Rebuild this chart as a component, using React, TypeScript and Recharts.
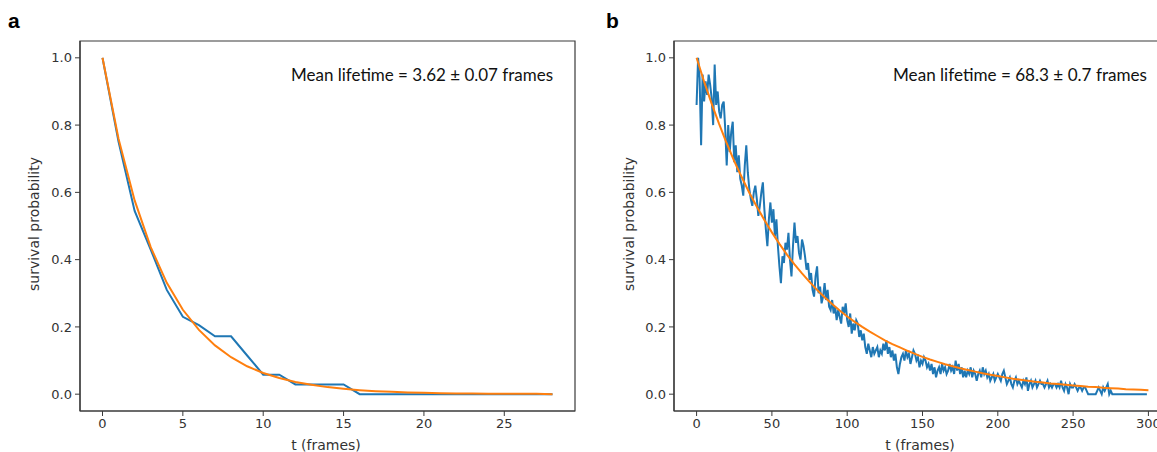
import React from "react";
import { LineChart, Line, XAxis, YAxis, ReferenceArea } from "recharts";

// ---- Panel a data ----
const A_T = [0, 1, 2, 3, 4, 5, 6, 7, 8, 9, 10, 11, 12, 13, 14, 15, 16, 17, 18, 19, 20, 21, 22, 23, 24, 25, 26, 27, 28];
const A_SURVIVAL = [1.0, 0.75, 0.545, 0.43, 0.31, 0.23, 0.205, 0.172, 0.172, 0.115, 0.058, 0.058, 0.029, 0.029, 0.029, 0.029, 0, 0, 0, 0, 0, 0, 0, 0, 0, 0, 0, 0, 0];
const A_FIT = [1.0, 0.759, 0.576, 0.437, 0.331, 0.251, 0.191, 0.145, 0.11, 0.083, 0.063, 0.048, 0.036, 0.028, 0.021, 0.016, 0.012, 0.009, 0.007, 0.005, 0.004, 0.003, 0.002, 0.002, 0.001, 0.001, 0.001, 0.001, 0.0];
const A_XTICKS = [0, 5, 10, 15, 20, 25];
const A_LABEL = "Mean lifetime = 3.62 ± 0.07 frames";

// ---- Panel b data (one value per frame, t = 0..299) ----
const B_SURVIVAL = [
  0.86, 1.0, 0.94, 0.74, 0.95, 0.87, 0.93, 0.89, 0.95, 0.92,
  0.88, 0.8, 0.98, 0.86, 0.9, 0.84, 0.82, 0.86, 0.87, 0.79,
  0.68, 0.8, 0.72, 0.78, 0.81, 0.69, 0.74, 0.66, 0.71, 0.64,
  0.62, 0.59, 0.68, 0.74, 0.66, 0.61, 0.58, 0.56, 0.6, 0.62,
  0.58, 0.53, 0.56, 0.6, 0.63, 0.55, 0.49, 0.44, 0.52, 0.57,
  0.51, 0.55, 0.47, 0.52, 0.44, 0.38, 0.33, 0.41, 0.39, 0.45,
  0.43, 0.48, 0.4, 0.35, 0.44, 0.51, 0.45, 0.47, 0.42, 0.4,
  0.46, 0.44, 0.41, 0.37, 0.39, 0.34, 0.36, 0.31, 0.29, 0.35,
  0.38, 0.3, 0.32, 0.27, 0.29, 0.33, 0.28, 0.31, 0.26, 0.25,
  0.28, 0.24, 0.26, 0.22, 0.25, 0.23, 0.21, 0.26, 0.24, 0.27,
  0.22, 0.2, 0.24, 0.18, 0.21, 0.19, 0.22, 0.21, 0.17, 0.19,
  0.16, 0.18, 0.14, 0.12, 0.15, 0.13, 0.11, 0.14, 0.12, 0.13,
  0.14, 0.11, 0.13, 0.12, 0.15, 0.13, 0.16, 0.12, 0.14, 0.11,
  0.13, 0.1, 0.12, 0.08, 0.06, 0.09, 0.11, 0.12, 0.1, 0.13,
  0.11, 0.12, 0.09, 0.11, 0.13, 0.12, 0.1, 0.11, 0.08, 0.1,
  0.09, 0.11, 0.1, 0.08, 0.09, 0.07, 0.09, 0.06, 0.08, 0.05,
  0.07, 0.08, 0.06, 0.09, 0.07, 0.08, 0.06, 0.07, 0.09, 0.07,
  0.08, 0.06, 0.1, 0.07, 0.09, 0.06, 0.08, 0.05, 0.07, 0.05,
  0.07, 0.06, 0.08, 0.05, 0.07, 0.06, 0.04, 0.06, 0.07, 0.05,
  0.08, 0.06, 0.07, 0.05, 0.06, 0.04, 0.05, 0.06, 0.04, 0.05,
  0.06, 0.05, 0.04, 0.06, 0.07, 0.05, 0.03, 0.04, 0.05, 0.03,
  0.02, 0.04, 0.05, 0.03, 0.04, 0.03, 0.02, 0.04, 0.03, 0.05,
  0.01, 0.03, 0.04, 0.02, 0.03, 0.04, 0.02, 0.03, 0.04, 0.03,
  0.03, 0.02, 0.03, 0.04, 0.02, 0.03, 0.02, 0.03, 0.03, 0.02,
  0.03, 0.02, 0.04, 0.02, 0.01, 0.03, 0.02, 0.0, 0.03, 0.02,
  0.02, 0.03, 0.02, 0.01, 0.02, 0.02, 0.01, 0.02, 0.02, 0.01,
  0.0, 0.0, 0.0, 0.0, 0.0, 0.0, 0.01, 0.02, 0.01, 0.0,
  0.02, 0.01, 0.02, 0.03, 0.0, 0.01, 0.0, 0.0, 0.0, 0.0,
  0, 0, 0, 0, 0, 0, 0, 0, 0, 0,
  0, 0, 0, 0, 0, 0, 0, 0, 0, 0,
];
// fit curve sampled every 5 frames
const B_FIT_T = [0, 5, 10, 15, 20, 25, 30, 35, 40, 45, 50, 55, 60, 65, 70, 75, 80, 85, 90, 95, 100, 105, 110, 115, 120, 125, 130, 135, 140, 145, 150, 155, 160, 165, 170, 175, 180, 185, 190, 195, 200, 205, 210, 215, 220, 225, 230, 235, 240, 245, 250, 255, 260, 265, 270, 275, 280, 285, 290, 295, 300];
const B_FIT = [1.0, 0.929, 0.864, 0.803, 0.746, 0.693, 0.645, 0.599, 0.557, 0.518, 0.481, 0.447, 0.415, 0.386, 0.359, 0.334, 0.31, 0.288, 0.268, 0.249, 0.231, 0.215, 0.2, 0.186, 0.173, 0.16, 0.149, 0.139, 0.129, 0.12, 0.111, 0.103, 0.096, 0.089, 0.083, 0.077, 0.072, 0.067, 0.062, 0.058, 0.054, 0.05, 0.046, 0.043, 0.04, 0.037, 0.035, 0.032, 0.03, 0.028, 0.026, 0.024, 0.022, 0.021, 0.019, 0.018, 0.017, 0.015, 0.014, 0.013, 0.012];
const B_XTICKS = [0, 50, 100, 150, 200, 250, 300];
const B_LABEL = "Mean lifetime = 68.3 ± 0.7 frames";

const Y_TICKS = [0, 0.2, 0.4, 0.6, 0.8, 1.0];
const Y_DOMAIN: [number, number] = [-0.05, 1.05];

const BLUE = "#1f77b4";
const ORANGE = "#ff7f0e";
const AXIS = "#3a3a3a";
const TICKFONT = { fontFamily: "DejaVu Sans", fontSize: 13, fill: "#333" };

const aData = A_T.map((t, i) => ({ t, s: A_SURVIVAL[i], f: A_FIT[i] }));
const bBlue = B_SURVIVAL.map((s, i) => ({ t: i, s }));
const bFit = B_FIT_T.map((t, i) => ({ t, f: B_FIT[i] }));

function Panel(props: {
  left: number;
  width: number;
  xDomain: [number, number];
  xTicks: number[];
  blue: any[];
  fit: any[];
}) {
  const { left, width, xDomain, xTicks, blue, fit } = props;
  return (
    <div style={{ position: "absolute", left, top: 0 }}>
      <LineChart width={width} height={452} margin={{ top: 41, right: 25, bottom: 11, left: 40 }}>
        <XAxis
          type="number"
          dataKey="t"
          domain={xDomain}
          ticks={xTicks}
          allowDataOverflow
          height={30}
          tickSize={5}
          tickMargin={3}
          tick={TICKFONT}
          axisLine={{ stroke: AXIS, strokeWidth: 1.2 }}
          tickLine={{ stroke: AXIS, strokeWidth: 1 }}
          tickFormatter={(v: number) => String(v)}
        />
        <YAxis
          type="number"
          domain={Y_DOMAIN}
          ticks={Y_TICKS}
          allowDataOverflow
          width={40}
          tickSize={5}
          tickMargin={3}
          tick={TICKFONT}
          axisLine={{ stroke: AXIS, strokeWidth: 1.2 }}
          tickLine={{ stroke: AXIS, strokeWidth: 1 }}
          tickFormatter={(v: number) => v.toFixed(1)}
        />
        <ReferenceArea
          x1={xDomain[0]}
          x2={xDomain[1]}
          y1={Y_DOMAIN[0]}
          y2={Y_DOMAIN[1]}
          fill="none"
          stroke={AXIS}
          strokeWidth={1.2}
          ifOverflow="visible"
        />
        <Line data={blue} dataKey="s" stroke={BLUE} strokeWidth={2} dot={false} isAnimationActive={false} type="linear" />
        <Line data={fit} dataKey="f" stroke={ORANGE} strokeWidth={2} dot={false} isAnimationActive={false} type="linear" />
      </LineChart>
    </div>
  );
}

export default function App() {
  return (
    <div style={{ position: "fixed", left: 0, top: 0, width: 1157, height: 452, overflow: "hidden", background: "#fff" }}>
      <Panel left={0} width={600} xDomain={[-1.4, 29.4]} xTicks={A_XTICKS} blue={aData} fit={aData} />
      <Panel left={594} width={602} xDomain={[-15, 315]} xTicks={B_XTICKS} blue={bBlue} fit={bFit} />
      <svg width={1157} height={452} style={{ position: "absolute", left: 0, top: 0, pointerEvents: "none" }}>
        <text x={8} y={28} fontFamily="Liberation Sans" fontWeight="bold" fontSize={21} fill="#000">a</text>
        <text x={606} y={28} fontFamily="Liberation Sans" fontWeight="bold" fontSize={21} fill="#000">b</text>
        <text x={291} y={80.5} fontFamily="Lato" fontSize={17} fill="#111" textLength={262} lengthAdjust="spacingAndGlyphs">{A_LABEL}</text>
        <text x={893} y={80.5} fontFamily="Lato" fontSize={17} fill="#111" textLength={254} lengthAdjust="spacingAndGlyphs">{B_LABEL}</text>
        <text x={326} y={450} textAnchor="middle" fontFamily="DejaVu Sans" fontSize={14} fill="#333">t (frames)</text>
        <text x={920} y={450} textAnchor="middle" fontFamily="DejaVu Sans" fontSize={14} fill="#333">t (frames)</text>
        <text transform="translate(39,224) rotate(-90)" textAnchor="middle" fontFamily="DejaVu Sans" fontSize={14} fill="#333">survival probability</text>
        <text transform="translate(634,224) rotate(-90)" textAnchor="middle" fontFamily="DejaVu Sans" fontSize={14} fill="#333">survival probability</text>
      </svg>
    </div>
  );
}
